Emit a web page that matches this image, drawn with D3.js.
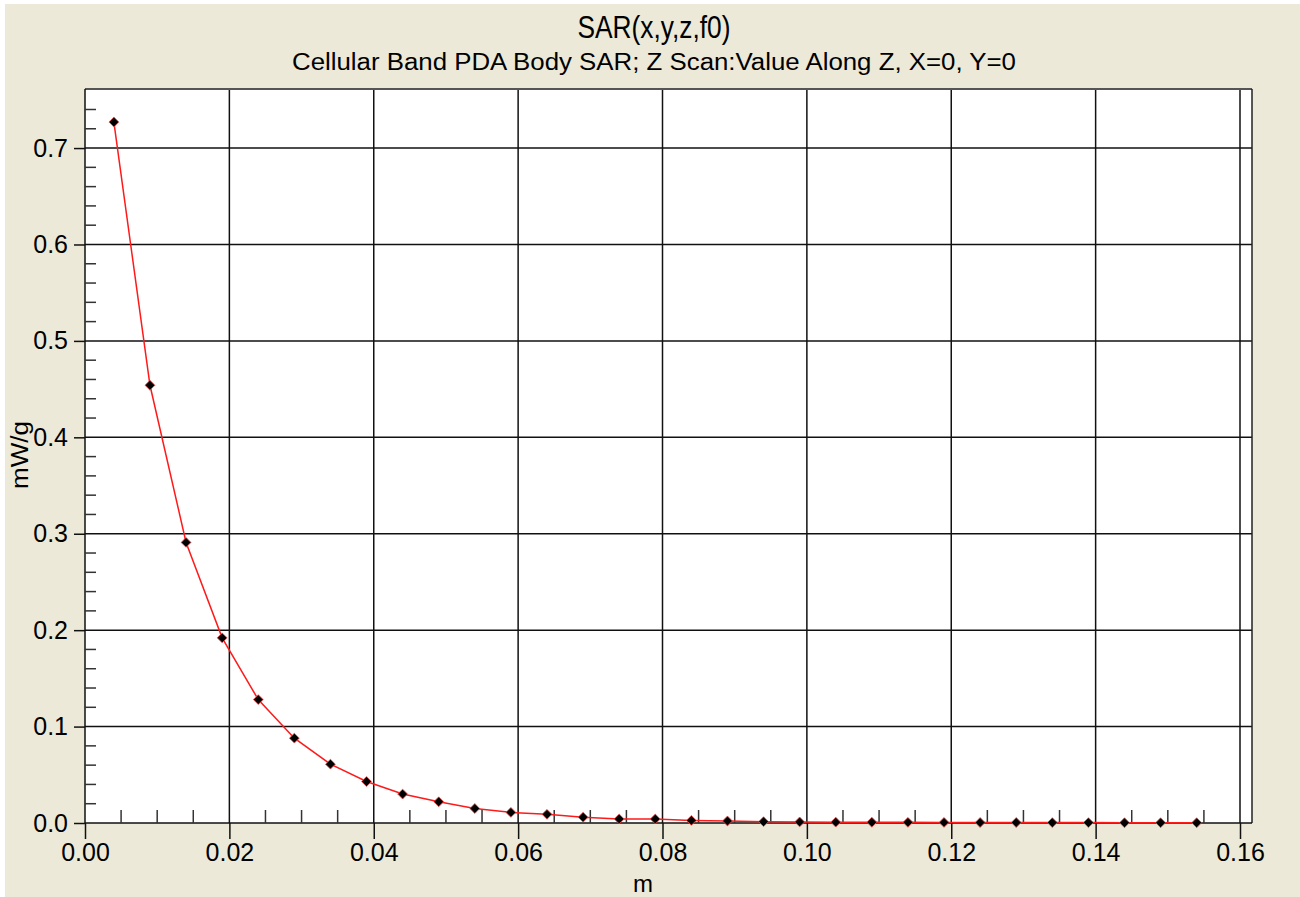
<!DOCTYPE html>
<html>
<head>
<meta charset="utf-8">
<script src="https://cdn.jsdelivr.net/npm/d3@7"></script>
<style>
    body { margin: 0; background: #fff; }
    text { font-family: Arial, "Liberation Sans", sans-serif; fill: #000; }
</style>
</head>
<body>
<div id="chart"></div>
<script>
// z positions (m) and SAR values (mW/g)
let zValues = [0.004, 0.009, 0.014, 0.019, 0.024, 0.029, 0.034, 0.039, 0.044, 0.049,
               0.054, 0.059, 0.064, 0.069, 0.074, 0.079, 0.084, 0.089, 0.094, 0.099,
               0.104, 0.109, 0.114, 0.119, 0.124, 0.129, 0.134, 0.139, 0.144, 0.149, 0.154];
let sarValues = [0.727, 0.454, 0.291, 0.192, 0.128, 0.088, 0.061, 0.043, 0.030, 0.022,
                 0.015, 0.011, 0.009, 0.006, 0.0042, 0.0041, 0.0027, 0.0021, 0.0014, 0.0011,
                 0.0009, 0.0008, 0.0007, 0.0006, 0.0005, 0.0005, 0.0004, 0.0004, 0.0003, 0.0003, 0.0003];
let xTicks = [0.00, 0.02, 0.04, 0.06, 0.08, 0.10, 0.12, 0.14, 0.16];
let yTicks = [0.0, 0.1, 0.2, 0.3, 0.4, 0.5, 0.6, 0.7];
let xMinor = [0.005, 0.010, 0.015, 0.025, 0.030, 0.035, 0.045, 0.050, 0.055, 0.065, 0.070, 0.075,
              0.085, 0.090, 0.095, 0.105, 0.110, 0.115, 0.125, 0.130, 0.135, 0.145, 0.150, 0.155];
let yMinor = [0.02, 0.04, 0.06, 0.08, 0.12, 0.14, 0.16, 0.18, 0.22, 0.24, 0.26, 0.28,
              0.32, 0.34, 0.36, 0.38, 0.42, 0.44, 0.46, 0.48, 0.52, 0.54, 0.56, 0.58,
              0.62, 0.64, 0.66, 0.68, 0.72, 0.74];

let data = zValues.map((z, i) => ({z: z, sar: sarValues[i]}));

let W = 1300, H = 897;
let margin = {top: 89, left: 85};
let plotW = 1167, plotH = 734;

let svg = d3.select("#chart").append("svg")
    .attr("width", W)
    .attr("height", H);

// beige window background
svg.append("rect")
    .attr("x", 5).attr("y", 4)
    .attr("width", W - 5).attr("height", H - 4)
    .attr("fill", "#ECE9D8");

// titles
svg.append("text")
    .attr("x", 654).attr("y", 38)
    .attr("text-anchor", "middle")
    .attr("font-size", 32)
    .attr("textLength", 153).attr("lengthAdjust", "spacingAndGlyphs")
    .text("SAR(x,y,z,f0)");

svg.append("text")
    .attr("x", 654).attr("y", 70)
    .attr("text-anchor", "middle")
    .attr("font-size", 23)
    .attr("textLength", 724).attr("lengthAdjust", "spacingAndGlyphs")
    .text("Cellular Band PDA Body SAR; Z Scan:Value Along Z, X=0, Y=0");

let g = svg.append("g")
    .attr("transform", `translate(${margin.left}, ${margin.top})`);

// scales
let x = d3.scaleLinear().domain([0, 0.16]).range([0, 1155]);
let y = d3.scaleLinear().domain([0, 0.7]).range([plotH, plotH - 0.7 * 964.2]);

// plot area
g.append("rect")
    .attr("width", plotW).attr("height", plotH)
    .attr("fill", "#fff");

// grid
g.selectAll(".vgrid")
    .data(xTicks.filter(d => d > 0))
    .join("line")
    .attr("class", "vgrid")
    .attr("x1", d => x(d)).attr("x2", d => x(d))
    .attr("y1", 0).attr("y2", plotH)
    .attr("stroke", "#111").attr("stroke-width", 1.5);

g.selectAll(".hgrid")
    .data(yTicks.filter(d => d > 0))
    .join("line")
    .attr("class", "hgrid")
    .attr("x1", 0).attr("x2", plotW)
    .attr("y1", d => y(d)).attr("y2", d => y(d))
    .attr("stroke", "#111").attr("stroke-width", 1.5);

// border
g.append("line").attr("x1", 0).attr("x2", plotW).attr("y1", 0).attr("y2", 0)
    .attr("stroke", "#555").attr("stroke-width", 2);
g.append("line").attr("x1", plotW).attr("x2", plotW).attr("y1", 0).attr("y2", plotH)
    .attr("stroke", "#222").attr("stroke-width", 1.5);

// x axis
let xAxis = d3.axisBottom(x)
    .tickValues(xTicks)
    .tickFormat(d3.format(".2f"))
    .tickSize(16)
    .tickPadding(4);

let xg = g.append("g")
    .attr("transform", `translate(0, ${plotH})`)
    .call(xAxis);
xg.select(".domain").attr("d", `M0,0H${plotW}`).attr("stroke", "#111").attr("stroke-width", 1.5);
xg.selectAll(".tick line").attr("stroke", "#111").attr("stroke-width", 1.5);
xg.selectAll("text").attr("font-size", 25).attr("font-family", "Arial, 'Liberation Sans', sans-serif").attr("fill", "#000");

// y axis
let yAxis = d3.axisLeft(y)
    .tickValues(yTicks)
    .tickFormat(d3.format(".1f"))
    .tickSize(11)
    .tickPadding(6);

let yg = g.append("g").call(yAxis);
yg.select(".domain").attr("d", `M0,0V${plotH}`).attr("stroke", "#111").attr("stroke-width", 1.5);
yg.selectAll(".tick line").attr("stroke", "#111").attr("stroke-width", 1.5);
yg.selectAll("text").attr("font-size", 25).attr("font-family", "Arial, 'Liberation Sans', sans-serif").attr("fill", "#000");

// minor ticks (inside the plot)
g.selectAll(".xminor")
    .data(xMinor)
    .join("line")
    .attr("class", "xminor")
    .attr("x1", d => x(d)).attr("x2", d => x(d))
    .attr("y1", plotH).attr("y2", plotH - 13)
    .attr("stroke", "#333").attr("stroke-width", 1.5);

g.selectAll(".yminor")
    .data(yMinor)
    .join("line")
    .attr("class", "yminor")
    .attr("x1", 0).attr("x2", 11)
    .attr("y1", d => y(d)).attr("y2", d => y(d))
    .attr("stroke", "#333").attr("stroke-width", 1.5);

// axis labels
svg.append("text")
    .attr("transform", "translate(28, 455) rotate(-90)")
    .attr("text-anchor", "middle")
    .attr("font-size", 23)
    .attr("textLength", 68).attr("lengthAdjust", "spacingAndGlyphs")
    .text("mW/g");

svg.append("text")
    .attr("x", 643).attr("y", 892)
    .attr("text-anchor", "middle")
    .attr("font-size", 24)
    .text("m");

// series
let line = d3.line()
    .x(d => x(d.z))
    .y(d => y(d.sar));

g.append("path")
    .datum(data)
    .attr("d", line)
    .attr("fill", "none")
    .attr("stroke", "#ff1a1a")
    .attr("stroke-width", 1.5);

g.selectAll(".marker")
    .data(data)
    .join("path")
    .attr("class", "marker")
    .attr("d", d3.symbol().type(d3.symbolDiamond2).size(62))
    .attr("transform", d => `translate(${x(d.z)}, ${y(d.sar)})`)
    .attr("fill", "#000")
    .attr("stroke", "#ff4d4d")
    .attr("stroke-width", 0.8);
</script>
</body>
</html>
